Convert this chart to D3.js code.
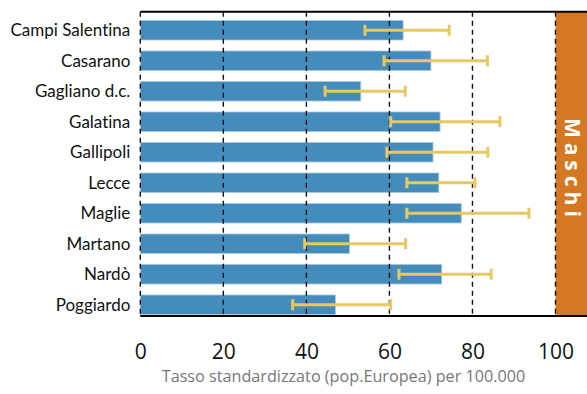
<!DOCTYPE html>
<html>
<head>
<meta charset="utf-8">
<script src="https://cdn.jsdelivr.net/npm/d3@7"></script>
<style>
  html, body { margin: 0; padding: 0; background: #fff; }
  svg { display: block; }
  text { font-variant-ligatures: none; font-feature-settings: "liga" 0, "dlig" 0; }
</style>
</head>
<body>
<div id="chart"></div>
<script>
// Standardised rates per district, with confidence interval
const categories = ["Campi Salentina", "Casarano", "Gagliano d.c.", "Galatina", "Gallipoli",
                    "Lecce", "Maglie", "Martano", "Nardò", "Poggiardo"];
const rates      = [63.3, 70.0, 53.1, 72.2, 70.5, 71.9, 77.3, 50.4, 72.6, 47.0];
const ciLow      = [54.1, 58.7, 44.5, 60.3, 59.4, 64.2, 64.2, 39.6, 62.3, 36.7];
const ciHigh     = [74.4, 83.6, 63.8, 86.6, 83.7, 80.6, 93.6, 63.9, 84.5, 60.3];
const tickValues = [0, 20, 40, 60, 80, 100];
const panelLabel = "Maschi";
const axisTitle  = "Tasso standardizzato (pop.Europea) per 100.000";

const W = 587, H = 394;
const plotTop = 11.7, plotBottom = 316;
const FONT = "'Open Sans', sans-serif";
const LABEL_FONT = "Lato, 'Open Sans', sans-serif";

const svg = d3.select("#chart").append("svg")
  .attr("width", W).attr("height", H);

const x = d3.scaleLinear().domain([0, 100]).range([140.3, 555.5]);
const y = d3.scaleBand().domain(categories)
  .range([15, 320]).paddingInner(0.36).paddingOuter(0.18);

// side panel
svg.append("rect")
  .attr("x", x(100)).attr("y", plotTop)
  .attr("width", W - x(100)).attr("height", plotBottom - plotTop)
  .attr("fill", "#d47922");

svg.append("text")
  .attr("transform", `translate(${x(100) + 9}, ${(plotTop + plotBottom) / 2 + 6}) rotate(90)`)
  .attr("text-anchor", "middle")
  .attr("font-family", FONT)
  .attr("font-weight", 700)
  .attr("font-size", 21)
  .attr("letter-spacing", 5)
  .attr("fill", "#fff")
  .text(panelLabel);

// bars
svg.append("g").selectAll("rect")
  .data(categories)
  .join("rect")
  .attr("x", x(0))
  .attr("y", d => y(d))
  .attr("width", (d, i) => x(rates[i]) - x(0))
  .attr("height", y.bandwidth())
  .attr("fill", "#438cbb")
  .attr("stroke", "#a9cbe2")
  .attr("stroke-width", 0.8);

// vertical dashed grid
svg.append("g").selectAll("line")
  .data(tickValues)
  .join("line")
  .attr("x1", d => x(d)).attr("x2", d => x(d))
  .attr("y1", plotTop).attr("y2", plotBottom)
  .attr("stroke", "#111")
  .attr("stroke-width", 1.4)
  .attr("stroke-dasharray", "5,4");

// error bars
const eb = svg.append("g").attr("stroke", "#e8c862").attr("fill", "none");
categories.forEach((c, i) => {
  const cy = y(c) + y.bandwidth() / 2;
  eb.append("line")
    .attr("x1", x(ciLow[i])).attr("x2", x(ciHigh[i]))
    .attr("y1", cy).attr("y2", cy)
    .attr("stroke-width", 2.8);
  [ciLow[i], ciHigh[i]].forEach(v => {
    eb.append("line")
      .attr("x1", x(v)).attr("x2", x(v))
      .attr("y1", cy - 5.5).attr("y2", cy + 5.5)
      .attr("stroke-width", 3);
  });
});

// frame lines top and bottom
svg.append("line")
  .attr("x1", x(0)).attr("x2", W)
  .attr("y1", plotTop).attr("y2", plotTop)
  .attr("stroke", "#000").attr("stroke-width", 2);
svg.append("line")
  .attr("x1", x(0)).attr("x2", W)
  .attr("y1", plotBottom).attr("y2", plotBottom)
  .attr("stroke", "#000").attr("stroke-width", 2);

// category labels
svg.append("g").selectAll("text")
  .data(categories)
  .join("text")
  .attr("x", x(0) - 10)
  .attr("y", d => y(d) + y.bandwidth() / 2)
  .attr("dy", "0.36em")
  .attr("text-anchor", "end")
  .attr("font-family", LABEL_FONT)
  .attr("font-size", 17)
  .attr("fill", "#111")
  .text(d => d);

// x axis tick labels
const xAxis = d3.axisBottom(x).tickValues(tickValues).tickSize(0).tickPadding(0);
const gx = svg.append("g")
  .attr("transform", `translate(0, ${plotBottom + 43})`)
  .call(xAxis);
gx.select(".domain").remove();
gx.selectAll("text")
  .attr("dy", 0)
  .attr("font-family", FONT)
  .attr("font-size", 21)
  .attr("fill", "#111");

// axis title
svg.append("text")
  .attr("x", 343.5).attr("y", 382)
  .attr("text-anchor", "middle")
  .attr("font-family", FONT)
  .attr("font-size", 16.2)
  .attr("fill", "#777")
  .text(axisTitle);
</script>
</body>
</html>
